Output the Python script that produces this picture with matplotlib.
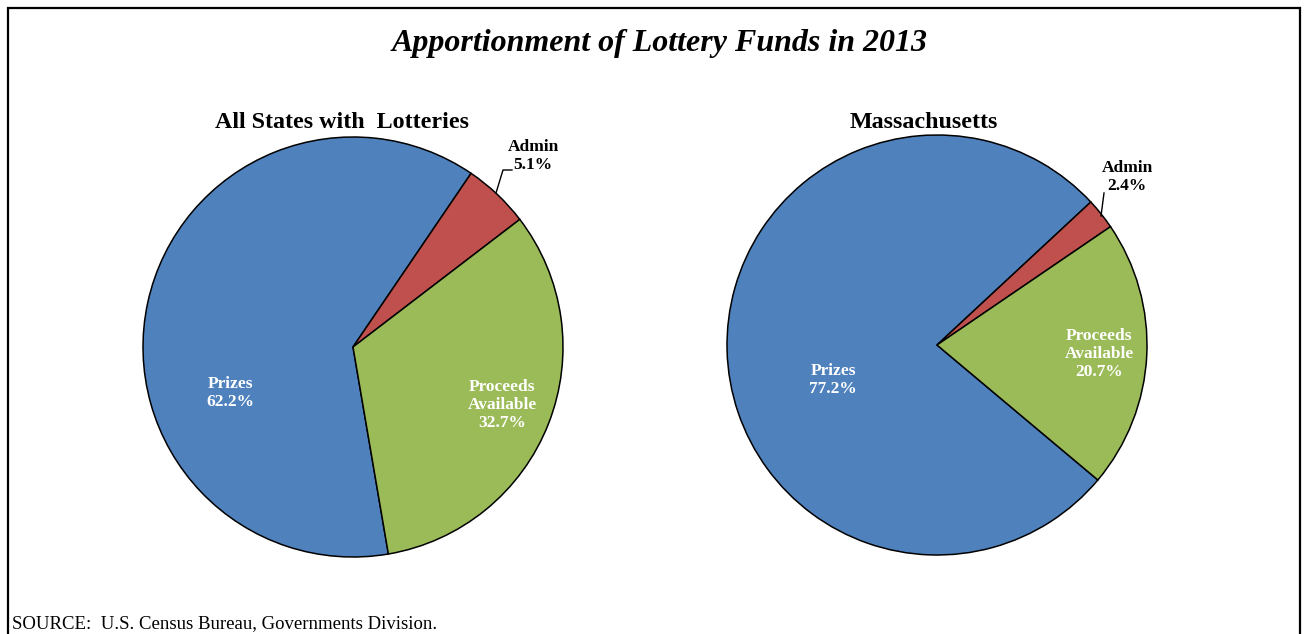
import matplotlib.pyplot as plt

plt.rcParams['font.family'] = ['Liberation Serif', 'DejaVu Serif']

categories = ['Prizes', 'Admin', 'Proceeds\nAvailable']
all_states = [62.2, 5.1, 32.7]
massachusetts = [77.2, 2.4, 20.7]
colors = ['#4F81BD', '#C0504D', '#9BBB59']

W, H = 1304, 634
fig = plt.figure(figsize=(W / 100, H / 100), dpi=100)
ax = fig.add_axes([0, 0, 1, 1])

# outer frame (open at the bottom)
ax.plot([8, 8, 1300, 1300], [-10, H - 8, H - 8, -10], color='black', lw=1.6,
        solid_joinstyle='miter')

wedge_style = dict(edgecolor='black', linewidth=1.1)


def draw_pie(values, cx, cy, start):
    ax.pie(values, colors=colors, center=(cx, H - cy), radius=210,
           startangle=start, counterclock=False, wedgeprops=wedge_style,
           frame=True)


draw_pie(all_states, 353, 347, -80.3)
draw_pie(massachusetts, 937, 345, -40.0)
ax.set_xlim(0, W)
ax.set_ylim(0, H)
ax.set_aspect('auto')
ax.axis('off')

lbl = dict(ha='center', va='center', fontsize=12.5, fontweight='bold',
           linespacing=1.2)


def label(x, y, name, val, color):
    ax.text(x, H - y, f'{name}\n{val:.1f}%', color=color, **lbl)


# All states labels
label(230, 393, categories[0], all_states[0], 'white')
label(502, 405, categories[2], all_states[2], 'white')
label(533, 156, categories[1], all_states[1], 'black')
ax.plot([496, 503, 512], [H - 193, H - 170, H - 170], color='black', lw=1)

# Massachusetts labels
label(833, 380, categories[0], massachusetts[0], 'white')
label(1099, 354, categories[2], massachusetts[2], 'white')
label(1127, 177, categories[1], massachusetts[1], 'black')
ax.plot([1101, 1104], [H - 216, H - 193], color='black', lw=1)

ax.text(342, H - 122, 'All States with  Lotteries', ha='center', va='center',
        fontsize=17.3, fontweight='bold')
ax.text(924, H - 122, 'Massachusetts', ha='center', va='center',
        fontsize=17.3, fontweight='bold')
ax.text(660, H - 44, 'Apportionment of Lottery Funds in 2013', ha='center',
        va='center', fontsize=23, fontweight='bold', fontstyle='italic')
ax.text(12, H - 624, 'SOURCE:  U.S. Census Bureau, Governments Division.',
        ha='left', va='center', fontsize=13.5)

fig.savefig('out.png', dpi=100)
